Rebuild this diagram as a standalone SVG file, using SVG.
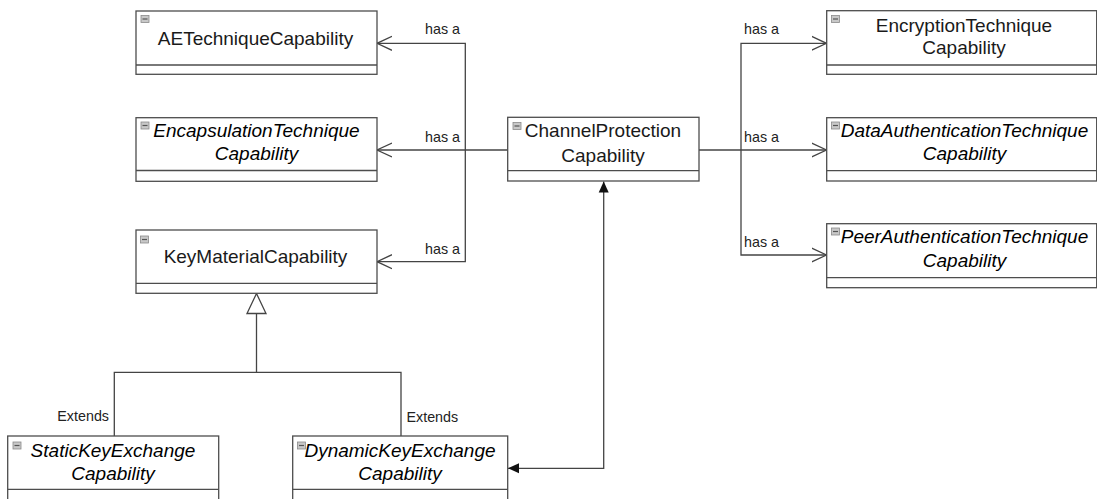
<svg xmlns="http://www.w3.org/2000/svg" width="1097" height="499" viewBox="0 0 1097 499">
  <style>
    .box { fill: #ffffff; stroke: #4d4d4d; stroke-width: 1.3; }
    .sep { stroke: #4d4d4d; stroke-width: 1.3; }
    .ico { fill: #c8c8c8; stroke: #8a8a8a; stroke-width: 0.8; }
    .icoline { stroke: #555555; stroke-width: 1.2; }
    .title { font-family: "Liberation Sans", Arial, sans-serif; font-size: 19px; fill: #1a1a1a; text-anchor: middle; }
    .abs { font-style: italic; fill: #000000; }
    .lbl { font-family: "Liberation Sans", Arial, sans-serif; font-size: 14.3px; fill: #222222; }
    .edge { fill: none; stroke: #444444; stroke-width: 1.3; }
  </style>
  <defs>
    <marker id="open" viewBox="0 0 16 16" markerWidth="16" markerHeight="16" refX="15" refY="8" orient="auto" markerUnits="userSpaceOnUse">
      <path d="M0,1 L15,8 L0,15" fill="none" stroke="#444444" stroke-width="1.3"/>
    </marker>
    <marker id="filled" viewBox="0 0 12 12" markerWidth="12" markerHeight="12" refX="11" refY="6" orient="auto" markerUnits="userSpaceOnUse">
      <path d="M0,1 L11,6 L0,11 Z" fill="#111111"/>
    </marker>
    <marker id="filledStart" viewBox="0 0 12 12" markerWidth="12" markerHeight="12" refX="1" refY="6" orient="auto" markerUnits="userSpaceOnUse">
      <path d="M12,1 L1,6 L12,11 Z" fill="#111111"/>
    </marker>
    <g id="icon">
      <rect class="ico" x="0" y="0" width="8" height="7"/>
      <line class="icoline" x1="1.5" y1="3.5" x2="6.5" y2="3.5"/>
    </g>
  </defs>

  <!-- connectors -->
  <g id="connectors">
    <!-- left "has a" fan -->
    <path class="edge" d="M507.7,150 L377,150" marker-end="url(#open)"/>
    <path class="edge" d="M465.3,150 L465.3,43.3 L377,43.3" marker-end="url(#open)"/>
    <path class="edge" d="M465.3,150 L465.3,261.7 L377,261.7" marker-end="url(#open)"/>
    <text class="lbl" x="425" y="34">has a</text>
    <text class="lbl" x="425" y="141.5">has a</text>
    <text class="lbl" x="425" y="253.5">has a</text>

    <!-- right "has a" fan -->
    <path class="edge" d="M699,150 L826.5,150" marker-end="url(#open)"/>
    <path class="edge" d="M741,150 L741,43.3 L826.5,43.3" marker-end="url(#open)"/>
    <path class="edge" d="M741,150 L741,255 L826.5,255" marker-end="url(#open)"/>
    <text class="lbl" x="744" y="34">has a</text>
    <text class="lbl" x="744" y="142">has a</text>
    <text class="lbl" x="744" y="247">has a</text>

    <!-- generalization -->
    <polygon points="256.5,293.5 247,313.5 266,313.5" fill="#ffffff" stroke="#444444" stroke-width="1.3"/>
    <path class="edge" d="M256.5,313.5 L256.5,372.3"/>
    <path class="edge" d="M114.3,436 L114.3,372.3 L401,372.3 L401,436"/>
    <text class="lbl" x="109" y="421" text-anchor="end">Extends</text>
    <text class="lbl" x="406.5" y="421.5">Extends</text>

    <!-- bidirectional link -->
    <path class="edge" d="M603.7,181.5 L603.7,468.3 L508,468.3" marker-start="url(#filledStart)" marker-end="url(#filled)"/>
  </g>

  <!-- nodes -->
  <g id="node-ae">
    <rect class="box" x="136" y="11" width="241" height="63.3"/>
    <line class="sep" x1="136" y1="65" x2="377" y2="65"/>
    <use href="#icon" x="141" y="15.5"/>
    <text class="title" x="255.5" y="45">AETechniqueCapability</text>
  </g>

  <g id="node-encapsulation">
    <rect class="box" x="136" y="117.7" width="241" height="63.6"/>
    <line class="sep" x1="136" y1="170.5" x2="377" y2="170.5"/>
    <use href="#icon" x="141" y="122"/>
    <text class="title abs" x="256.5" y="136.7">EncapsulationTechnique</text>
    <text class="title abs" x="256.5" y="160">Capability</text>
  </g>

  <g id="node-keymaterial">
    <rect class="box" x="136" y="230" width="241" height="63.3"/>
    <line class="sep" x1="136" y1="283.3" x2="377" y2="283.3"/>
    <use href="#icon" x="140.5" y="236"/>
    <text class="title" x="255.5" y="262.7">KeyMaterialCapability</text>
  </g>

  <g id="node-channelprotection">
    <rect class="box" x="507.7" y="117.3" width="191.3" height="63.7"/>
    <line class="sep" x1="507.7" y1="170.7" x2="699" y2="170.7"/>
    <use href="#icon" x="513" y="122.5"/>
    <text class="title" x="603" y="137.3">ChannelProtection</text>
    <text class="title" x="603" y="161.7">Capability</text>
  </g>

  <g id="node-encryption">
    <rect class="box" x="826.7" y="10.7" width="270" height="63.6"/>
    <line class="sep" x1="826.7" y1="65" x2="1096.7" y2="65"/>
    <use href="#icon" x="831.5" y="15.5"/>
    <text class="title" x="964" y="31.7">EncryptionTechnique</text>
    <text class="title" x="964" y="54.3">Capability</text>
  </g>

  <g id="node-dataauth">
    <rect class="box" x="826.7" y="117.7" width="270" height="63.3"/>
    <line class="sep" x1="826.7" y1="170.7" x2="1096.7" y2="170.7"/>
    <use href="#icon" x="831.5" y="122"/>
    <text class="title abs" x="964.5" y="136.7">DataAuthenticationTechnique</text>
    <text class="title abs" x="964.5" y="160">Capability</text>
  </g>

  <g id="node-peerauth">
    <rect class="box" x="826.7" y="223.7" width="270" height="64"/>
    <line class="sep" x1="826.7" y1="277.7" x2="1096.7" y2="277.7"/>
    <use href="#icon" x="831.5" y="228"/>
    <text class="title abs" x="964.5" y="243.3">PeerAuthenticationTechnique</text>
    <text class="title abs" x="964.5" y="266.7">Capability</text>
  </g>

  <g id="node-statickey">
    <rect class="box" x="7.7" y="436" width="211" height="70"/>
    <line class="sep" x1="7.7" y1="489.3" x2="218.7" y2="489.3"/>
    <use href="#icon" x="13" y="442"/>
    <text class="title abs" x="113" y="456.7">StaticKeyExchange</text>
    <text class="title abs" x="113" y="480">Capability</text>
  </g>

  <g id="node-dynamickey">
    <rect class="box" x="292.7" y="436" width="215" height="70"/>
    <line class="sep" x1="292.7" y1="489.3" x2="507.7" y2="489.3"/>
    <use href="#icon" x="297.5" y="442"/>
    <text class="title abs" x="400" y="456.7">DynamicKeyExchange</text>
    <text class="title abs" x="400" y="480">Capability</text>
  </g>
</svg>
